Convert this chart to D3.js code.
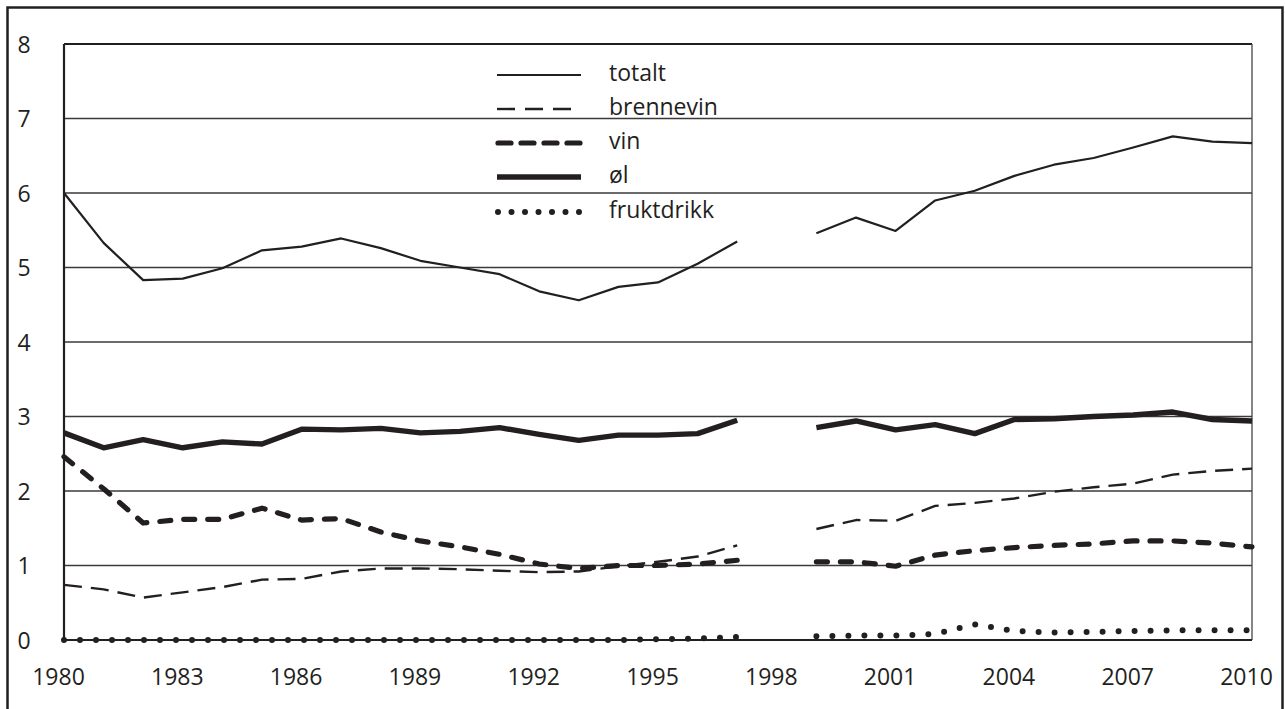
<!DOCTYPE html>
<html>
<head>
<meta charset="utf-8">
<script src="https://cdn.jsdelivr.net/npm/d3@7/dist/d3.min.js"></script>
<style>
  html, body { margin: 0; padding: 0; background: #fff; }
  svg { display: block; }
  text { font-family: "Open Sans", "Noto Sans", sans-serif; fill: #231f20; }
</style>
</head>
<body>
<svg id="chart" width="1285" height="709"></svg>
<script>
const years = d3.range(1980, 2011);
// null = no data (1998)
const totalt = [6.00,5.33,4.83,4.85,4.99,5.23,5.28,5.39,5.26,5.09,5.00,4.91,4.68,4.56,4.74,4.80,5.05,5.35,null,5.46,5.67,5.49,5.90,6.03,6.23,6.38,6.47,6.61,6.76,6.69,6.67];
const brennevin = [0.74,0.68,0.57,0.64,0.71,0.81,0.82,0.92,0.96,0.96,0.95,0.93,0.91,0.92,0.99,1.05,1.12,1.27,null,1.49,1.61,1.60,1.80,1.84,1.90,1.99,2.05,2.10,2.22,2.27,2.30];
const vin = [2.46,2.03,1.57,1.62,1.62,1.77,1.61,1.63,1.45,1.33,1.25,1.15,1.02,0.96,1.00,1.00,1.02,1.07,null,1.05,1.05,0.99,1.14,1.20,1.24,1.27,1.29,1.33,1.33,1.30,1.25];
const ol = [2.78,2.58,2.69,2.58,2.66,2.63,2.83,2.82,2.84,2.78,2.80,2.85,2.76,2.68,2.75,2.75,2.77,2.95,null,2.85,2.94,2.82,2.89,2.77,2.96,2.97,3.00,3.02,3.06,2.96,2.94];
const fruktdrikk = [0,0,0,0,0,0,0,0,0,0,0,0,0,0,0,0.01,0.02,0.04,null,0.05,0.06,0.06,0.08,0.21,0.12,0.10,0.11,0.12,0.13,0.13,0.13];
const xTicks = [1980,1983,1986,1989,1992,1995,1998,2001,2004,2007,2010];
const yTicks = [0,1,2,3,4,5,6,7,8];
const seriesNames = ["totalt","brennevin","vin","øl","fruktdrikk"];

const styles = {
  "totalt":     { w: 2.2, dash: null, cap: "butt" },
  "brennevin":  { w: 2.4, dash: "18,9", cap: "butt" },
  "vin":        { w: 5.2, dash: "11,13", cap: "round" },
  "øl":         { w: 5.4, dash: null, cap: "butt" },
  "fruktdrikk": { w: 6, dash: "0,16", cap: "round" }
};
const seriesData = { "totalt": totalt, "brennevin": brennevin, "vin": vin, "øl": ol, "fruktdrikk": fruktdrikk };

const svg = d3.select("#chart");
const L = 64, R = 1252, T = 44, B = 640;
const x = d3.scaleLinear().domain([1980, 2010]).range([L, R]);
const y = d3.scaleLinear().domain([0, 8]).range([B, T]);
const ink = "#231f20";

// outer border
svg.append("rect").attr("x", 7.5).attr("y", 7.5).attr("width", 1275).attr("height", 720)
  .attr("fill", "none").attr("stroke", ink).attr("stroke-width", 2.5);

// gridlines
svg.append("g").selectAll("line").data(yTicks.filter(d => d > 0 && d < 8)).join("line")
  .attr("x1", L).attr("x2", R).attr("y1", d => y(d)).attr("y2", d => y(d))
  .attr("stroke", "#3a3a3a").attr("stroke-width", 1.3);

// frame
svg.append("line").attr("x1", L).attr("x2", R).attr("y1", y(8)).attr("y2", y(8)).attr("stroke", ink).attr("stroke-width", 2);
svg.append("line").attr("x1", R).attr("x2", R).attr("y1", T).attr("y2", B).attr("stroke", "#444").attr("stroke-width", 1.3);

// series
const line = d3.line().defined(d => d[1] !== null).x(d => x(d[0])).y(d => y(d[1]));
seriesNames.forEach(name => {
  const s = styles[name];
  svg.append("path")
    .datum(years.map((yr, i) => [yr, seriesData[name][i]]))
    .attr("d", line)
    .attr("fill", "none")
    .attr("stroke", ink)
    .attr("stroke-width", s.w)
    .attr("stroke-linecap", s.cap)
    .attr("stroke-linejoin", "round")
    .attr("stroke-dasharray", s.dash);
});

// axes lines
svg.append("line").attr("x1", L).attr("x2", R).attr("y1", B).attr("y2", B).attr("stroke", ink).attr("stroke-width", 2.2);
svg.append("line").attr("x1", L).attr("x2", L).attr("y1", T).attr("y2", B).attr("stroke", ink).attr("stroke-width", 2.2);

// x axis
const xAxis = svg.append("g").attr("transform", `translate(0,${B})`)
  .call(d3.axisBottom(x).tickValues(xTicks).tickFormat(d3.format("d")).tickSize(0).tickPadding(29));
xAxis.select(".domain").remove();
xAxis.selectAll("text").attr("font-size", 23).attr("x", -6).style("font-family", '"Open Sans", sans-serif').attr("fill", ink);

// y axis
const yAxis = svg.append("g").attr("transform", `translate(${L},0)`)
  .call(d3.axisLeft(y).tickValues(yTicks).tickFormat(d3.format("d")).tickSize(0));
yAxis.select(".domain").remove();
yAxis.selectAll("text").attr("font-size", 23).attr("text-anchor", "middle").attr("x", 24 - L).attr("dy", "0.36em")
  .style("font-family", '"Open Sans", sans-serif').attr("fill", ink);

// legend
const lg = svg.append("g");
const legY = [75, 109, 143, 177, 212];
seriesNames.forEach((name, i) => {
  const s = styles[name];
  const lx1 = name === "fruktdrikk" ? 498 : (name === "vin" ? 498 : 497);
  lg.append("line").attr("x1", lx1).attr("x2", name === "brennevin" ? 575 : 581)
    .attr("y1", legY[i]).attr("y2", legY[i])
    .attr("stroke", ink).attr("stroke-width", s.w)
    .attr("stroke-linecap", s.cap)
    .attr("stroke-dasharray", name === "brennevin" ? "18,10" : (name === "vin" ? "13,10" : (name === "fruktdrikk" ? "0,13.5" : s.dash)));
  lg.append("text").attr("x", 609).attr("y", legY[i] + 6).attr("font-size", 23).text(name);
});
</script>
</body>
</html>
